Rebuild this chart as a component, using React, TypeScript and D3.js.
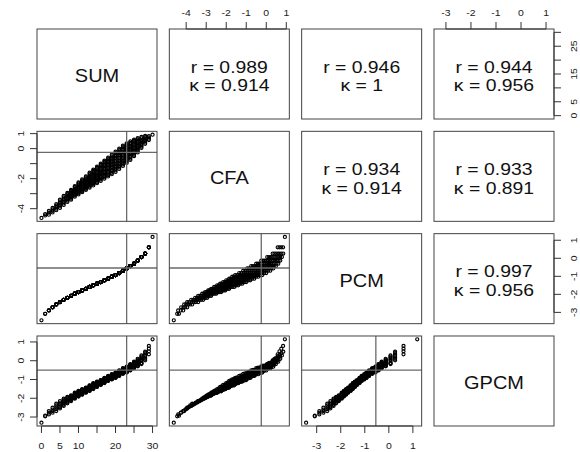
import React from "react";
import * as d3 from "d3";

// ---------------- data ----------------
const varNames = ["SUM", "CFA", "PCM", "GPCM"];
const sumLevels = [0,1,2,3,4,5,6,7,8,9,10,11,12,13,14,15,16,17,18,19,20,21,22,23,24,25,26,27,28,29,30];
const pcmBySum = [-3.44,-3.08,-2.89,-2.72,-2.56,-2.43,-2.30,-2.19,-2.08,-1.96,-1.87,-1.78,-1.69,-1.59,-1.50,-1.41,-1.32,-1.22,-1.13,-1.02,-0.93,-0.82,-0.69,-0.56,-0.43,-0.30,-0.13,0.07,0.26,0.61,1.18];
const cfaBySum: number[][] = [
  [-4.62],
  [-4.45,-4.36],
  [-4.40,-4.27,-4.15],
  [-4.25,-4.14,-4.05,-3.95],
  [-4.10,-4.00,-3.90,-3.80,-3.70],
  [-3.95,-3.85,-3.73,-3.62,-3.52,-3.40],
  [-3.75,-3.65,-3.55,-3.45,-3.35,-3.25,-3.15],
  [-3.55,-3.46,-3.37,-3.28,-3.20,-3.11,-3.03,-2.95],
  [-3.40,-3.33,-3.26,-3.19,-3.12,-3.04,-2.97,-2.90,-2.82,-2.75],
  [-3.20,-3.13,-3.07,-3.01,-2.95,-2.90,-2.84,-2.78,-2.71,-2.65,-2.57,-2.50],
  [-3.05,-2.98,-2.92,-2.86,-2.79,-2.73,-2.66,-2.60,-2.53,-2.46,-2.39,-2.32,-2.25],
  [-2.90,-2.84,-2.77,-2.71,-2.65,-2.58,-2.52,-2.45,-2.39,-2.32,-2.25,-2.18,-2.12,-2.05],
  [-2.75,-2.68,-2.62,-2.55,-2.48,-2.41,-2.35,-2.28,-2.21,-2.14,-2.06,-1.99,-1.92,-1.85],
  [-2.60,-2.53,-2.45,-2.38,-2.31,-2.23,-2.16,-2.09,-2.01,-1.94,-1.86,-1.78,-1.69,-1.60],
  [-2.45,-2.37,-2.29,-2.21,-2.13,-2.06,-1.98,-1.90,-1.82,-1.74,-1.66,-1.57,-1.49,-1.40],
  [-2.30,-2.22,-2.13,-2.05,-1.97,-1.89,-1.81,-1.72,-1.64,-1.55,-1.46,-1.38,-1.29,-1.20],
  [-2.15,-2.06,-1.98,-1.89,-1.80,-1.72,-1.63,-1.54,-1.45,-1.36,-1.27,-1.18,-1.09,-1.00],
  [-2.00,-1.91,-1.82,-1.73,-1.64,-1.55,-1.46,-1.37,-1.27,-1.18,-1.08,-0.99,-0.89,-0.80],
  [-1.85,-1.76,-1.66,-1.57,-1.47,-1.38,-1.28,-1.19,-1.09,-1.00,-0.90,-0.80,-0.70,-0.60],
  [-1.70,-1.61,-1.50,-1.41,-1.31,-1.20,-1.11,-1.00,-0.91,-0.80,-0.71,-0.60,-0.51,-0.40],
  [-1.55,-1.45,-1.34,-1.24,-1.14,-1.03,-0.93,-0.83,-0.72,-0.62,-0.51,-0.41,-0.30,-0.20],
  [-1.35,-1.25,-1.14,-1.04,-0.94,-0.83,-0.73,-0.62,-0.52,-0.42,-0.31,-0.21,-0.10,0.00],
  [-1.15,-1.05,-0.94,-0.84,-0.73,-0.63,-0.53,-0.42,-0.32,-0.21,-0.11,0.00,0.10,0.20],
  [-0.95,-0.86,-0.75,-0.66,-0.55,-0.45,-0.36,-0.25,-0.15,-0.06,0.05,0.14,0.25,0.35],
  [-0.75,-0.66,-0.56,-0.47,-0.37,-0.28,-0.19,-0.09,0.00,0.10,0.19,0.29,0.38,0.48],
  [-0.50,-0.41,-0.32,-0.23,-0.14,-0.05,0.04,0.14,0.23,0.32,0.41,0.51,0.60],
  [-0.25,-0.16,-0.08,0.01,0.09,0.18,0.27,0.35,0.44,0.53,0.61,0.70],
  [0.05,0.14,0.23,0.32,0.41,0.50,0.59,0.69,0.78],
  [0.32,0.41,0.50,0.59,0.67,0.76,0.85],
  [0.57,0.66,0.75,0.84],
  [0.93],
];
const gpcmBySum: number[][] = [
  [-3.30],
  [-2.96,-2.93],
  [-2.86,-2.77,-2.68],
  [-2.77,-2.68,-2.60,-2.50],
  [-2.68,-2.58,-2.48,-2.38,-2.29],
  [-2.54,-2.47,-2.39,-2.31,-2.23,-2.15],
  [-2.41,-2.35,-2.28,-2.22,-2.15,-2.08,-2.02],
  [-2.27,-2.22,-2.17,-2.12,-2.07,-2.02,-1.97,-1.93],
  [-2.15,-2.12,-2.08,-2.05,-2.01,-1.98,-1.94,-1.91,-1.87,-1.84],
  [-2.02,-1.97,-1.99,-1.93,-1.90,-1.88,-1.84,-1.86,-1.80,-1.77,-1.73,-1.70],
  [-1.91,-1.86,-1.88,-1.83,-1.79,-1.81,-1.76,-1.74,-1.69,-1.71,-1.66,-1.61,-1.63],
  [-1.81,-1.78,-1.79,-1.74,-1.72,-1.70,-1.67,-1.68,-1.63,-1.61,-1.59,-1.56,-1.54,-1.52],
  [-1.70,-1.67,-1.68,-1.63,-1.61,-1.59,-1.57,-1.55,-1.52,-1.53,-1.49,-1.47,-1.45,-1.43],
  [-1.61,-1.58,-1.59,-1.54,-1.52,-1.49,-1.47,-1.45,-1.42,-1.43,-1.39,-1.36,-1.33,-1.31],
  [-1.51,-1.47,-1.48,-1.44,-1.41,-1.39,-1.37,-1.34,-1.32,-1.30,-1.27,-1.25,-1.22,-1.20],
  [-1.40,-1.37,-1.38,-1.33,-1.31,-1.29,-1.27,-1.24,-1.22,-1.23,-1.18,-1.16,-1.13,-1.11],
  [-1.29,-1.27,-1.25,-1.23,-1.21,-1.22,-1.18,-1.16,-1.14,-1.12,-1.10,-1.08,-1.05,-1.03],
  [-1.19,-1.16,-1.17,-1.13,-1.11,-1.09,-1.07,-1.05,-1.03,-1.01,-0.99,-0.97,-0.94,-0.92],
  [-1.08,-1.05,-1.06,-1.02,-1.00,-0.98,-0.96,-0.94,-0.92,-0.90,-0.88,-0.86,-0.83,-0.81],
  [-1.00,-0.97,-0.98,-0.94,-0.92,-0.90,-0.88,-0.86,-0.83,-0.81,-0.79,-0.77,-0.74,-0.72],
  [-0.92,-0.89,-0.90,-0.86,-0.84,-0.81,-0.79,-0.77,-0.75,-0.73,-0.70,-0.68,-0.65,-0.63],
  [-0.81,-0.78,-0.79,-0.75,-0.73,-0.70,-0.68,-0.66,-0.64,-0.62,-0.59,-0.57,-0.54,-0.52],
  [-0.70,-0.67,-0.68,-0.64,-0.62,-0.59,-0.57,-0.55,-0.52,-0.50,-0.48,-0.45,-0.42,-0.40],
  [-0.63,-0.60,-0.61,-0.57,-0.54,-0.52,-0.50,-0.47,-0.45,-0.43,-0.40,-0.37,-0.35,-0.32],
  [-0.52,-0.49,-0.50,-0.45,-0.42,-0.40,-0.37,-0.35,-0.32,-0.30,-0.27,-0.24,-0.21,-0.18],
  [-0.40,-0.37,-0.38,-0.33,-0.30,-0.27,-0.24,-0.21,-0.18,-0.15,-0.12,-0.08,-0.05],
  [-0.30,-0.26,-0.27,-0.21,-0.17,-0.13,-0.09,-0.06,-0.02,0.02,0.06,0.10],
  [-0.18,-0.12,-0.13,-0.01,0.05,0.11,0.17,0.22,0.28],
  [0.02,0.10,0.17,0.25,0.32,0.40,0.48],
  [0.34,0.50,0.64,0.79],
  [1.14],
];
// cut-off reference lines per variable
const cutoffs = [23, -0.25, -0.54, -0.5];
// upper-panel statistics
const statRows = [0, 0, 0, 1, 1, 2];
const statCols = [1, 2, 3, 2, 3, 3];
const statR = ["0.989", "0.946", "0.944", "0.934", "0.933", "0.997"];
const statK = ["0.914", "1", "0.956", "0.914", "0.891", "0.956"];
// tick values and shown labels
const sumTicks = [0, 5, 10, 15, 20, 25, 30];
const sumBottomLabels = [0, 5, 10, 20, 30];
const sumRightLabels = [0, 5, 15, 25];
const cfaTicks = [-4, -3, -2, -1, 0, 1];
const cfaTopLabels = [-4, -3, -2, -1, 0, 1];
const cfaLeftLabels = [-4, -2, 0, 1];
const pcmTicks = [-3, -2, -1, 0, 1];
const gpcmTicks = [-3, -2, -1, 0, 1];

// ---------------- layout ----------------
const W = 580, H = 452;
const PW = 120, PH = 90;
const colLeft = (i: number) => 37 + i * 132.33;
const rowTop = (i: number) => 29 + i * 102.33;
const FONT = "'Liberation Sans', Arial, Helvetica, sans-serif";

type Rec = number[];
const records: Rec[] = [];
sumLevels.forEach((s, k) => {
  cfaBySum[k].forEach((c, j) => {
    records.push([s, c, pcmBySum[k], gpcmBySum[k][j]]);
  });
});

const domains = varNames.map((_, v) => {
  const [lo, hi] = d3.extent(records, (r) => r[v]) as [number, number];
  const pad = (hi - lo) * 0.04;
  return [lo - pad, hi + pad] as [number, number];
});
const xScale = (v: number, c: number) =>
  d3.scaleLinear().domain(domains[v]).range([colLeft(c), colLeft(c) + PW]);
const yScale = (v: number, r: number) =>
  d3.scaleLinear().domain(domains[v]).range([rowTop(r) + PH, rowTop(r)]);

const TICK = 7;
const TFS = 9.5;
const axisColor = "#333";
const labelColor = "#1a1a1a";

function AxisTop({ v, c, ticks, labels }: any) {
  const s = xScale(v, c);
  const y0 = rowTop(0);
  return (
    <g>
      <line x1={s(ticks[0])} x2={s(ticks[ticks.length - 1])} y1={y0} y2={y0} stroke={axisColor} />
      {ticks.map((t: number) => (
        <line key={t} x1={s(t)} x2={s(t)} y1={y0} y2={y0 - TICK} stroke={axisColor} />
      ))}
      {labels.map((t: number) => (
        <text key={t} transform={`translate(${s(t)},${15.6}) scale(1.1,1)`} textAnchor="middle" fontSize={TFS} fontFamily={FONT} fill={labelColor}>{t}</text>
      ))}
    </g>
  );
}
function AxisBottom({ v, c, ticks, labels }: any) {
  const s = xScale(v, c);
  const y0 = rowTop(3) + PH;
  return (
    <g>
      <line x1={s(ticks[0])} x2={s(ticks[ticks.length - 1])} y1={y0} y2={y0} stroke={axisColor} />
      {ticks.map((t: number) => (
        <line key={t} x1={s(t)} x2={s(t)} y1={y0} y2={y0 + TICK} stroke={axisColor} />
      ))}
      {labels.map((t: number) => (
        <text key={t} transform={`translate(${s(t)},${449.4}) scale(1.1,1)`} textAnchor="middle" fontSize={TFS} fontFamily={FONT} fill={labelColor}>{t}</text>
      ))}
    </g>
  );
}
function AxisLeft({ v, r, ticks, labels }: any) {
  const s = yScale(v, r);
  const x0 = colLeft(0);
  return (
    <g>
      <line y1={s(ticks[0])} y2={s(ticks[ticks.length - 1])} x1={x0} x2={x0} stroke={axisColor} />
      {ticks.map((t: number) => (
        <line key={t} y1={s(t)} y2={s(t)} x1={x0} x2={x0 - TICK} stroke={axisColor} />
      ))}
      {labels.map((t: number) => (
        <text key={t} transform={`translate(${24.4},${s(t)}) rotate(-90) scale(1.1,1)`} textAnchor="middle" fontSize={TFS} fontFamily={FONT} fill={labelColor}>{t}</text>
      ))}
    </g>
  );
}
function AxisRight({ v, r, ticks, labels }: any) {
  const s = yScale(v, r);
  const x0 = colLeft(3) + PW;
  return (
    <g>
      <line y1={s(ticks[0])} y2={s(ticks[ticks.length - 1])} x1={x0} x2={x0} stroke={axisColor} />
      {ticks.map((t: number) => (
        <line key={t} y1={s(t)} y2={s(t)} x1={x0} x2={x0 + TICK} stroke={axisColor} />
      ))}
      {labels.map((t: number) => (
        <text key={t} transform={`translate(${576.9},${s(t)}) rotate(-90) scale(1.1,1)`} textAnchor="middle" fontSize={TFS} fontFamily={FONT} fill={labelColor}>{t}</text>
      ))}
    </g>
  );
}

export default function App() {
  const panels: React.ReactNode[] = [];
  for (let r = 0; r < 4; r++) {
    for (let c = 0; c < 4; c++) {
      const x0 = colLeft(c), y0 = rowTop(r);
      const cx = x0 + PW / 2, cy = y0 + PH / 2;
      let content: React.ReactNode = null;
      if (r === c) {
        content = (
          <text transform={`translate(${cx},${cy + 8.1}) scale(1.08,1)`} textAnchor="middle" fontSize={18.5} fontFamily={FONT} fill="#111">{varNames[r]}</text>
        );
      } else if (r > c) {
        const xs = xScale(c, c);
        const ys = yScale(r, r);
        content = (
          <g>
            {records.map((rec, i) => (
              <circle key={i} cx={xs(rec[c])} cy={ys(rec[r])} r={1.55} fill="none" stroke="#000" strokeWidth={1.15} />
            ))}
            <line x1={xs(cutoffs[c])} x2={xs(cutoffs[c])} y1={y0} y2={y0 + PH} stroke="#6a6a6a" strokeWidth={1.3} />
            <line x1={x0} x2={x0 + PW} y1={ys(cutoffs[r])} y2={ys(cutoffs[r])} stroke="#6a6a6a" strokeWidth={1.3} />
          </g>
        );
      } else {
        const k = statRows.findIndex((rr, i) => rr === r && statCols[i] === c);
        content = (
          <g fontFamily={FONT} fontSize={17} fill="#111" textAnchor="middle">
            <text transform={`translate(${cx},${cy - 1.5}) scale(1.14,1)`}>{`r = ${statR[k]}`}</text>
            <text transform={`translate(${cx},${cy + 17.2}) scale(1.14,1)`}>{`κ = ${statK[k]}`}</text>
          </g>
        );
      }
      panels.push(
        <g key={`${r}-${c}`}>
          {content}
          <rect x={x0} y={y0} width={PW} height={PH} fill="none" stroke="#444" strokeWidth={1} />
        </g>
      );
    }
  }
  return (
    <svg width={W} height={H} style={{ position: "absolute", left: 0, top: 0, background: "#fff" }}>
      <rect x={0} y={0} width={W} height={H} fill="#fff" />
      {panels}
      <AxisTop v={1} c={1} ticks={cfaTicks} labels={cfaTopLabels} />
      <AxisTop v={3} c={3} ticks={gpcmTicks} labels={gpcmTicks} />
      <AxisBottom v={0} c={0} ticks={sumTicks} labels={sumBottomLabels} />
      <AxisBottom v={2} c={2} ticks={pcmTicks} labels={pcmTicks} />
      <AxisLeft v={1} r={1} ticks={cfaTicks} labels={cfaLeftLabels} />
      <AxisLeft v={3} r={3} ticks={gpcmTicks} labels={gpcmTicks} />
      <AxisRight v={0} r={0} ticks={sumTicks} labels={sumRightLabels} />
      <AxisRight v={2} r={2} ticks={pcmTicks} labels={pcmTicks} />
    </svg>
  );
}
